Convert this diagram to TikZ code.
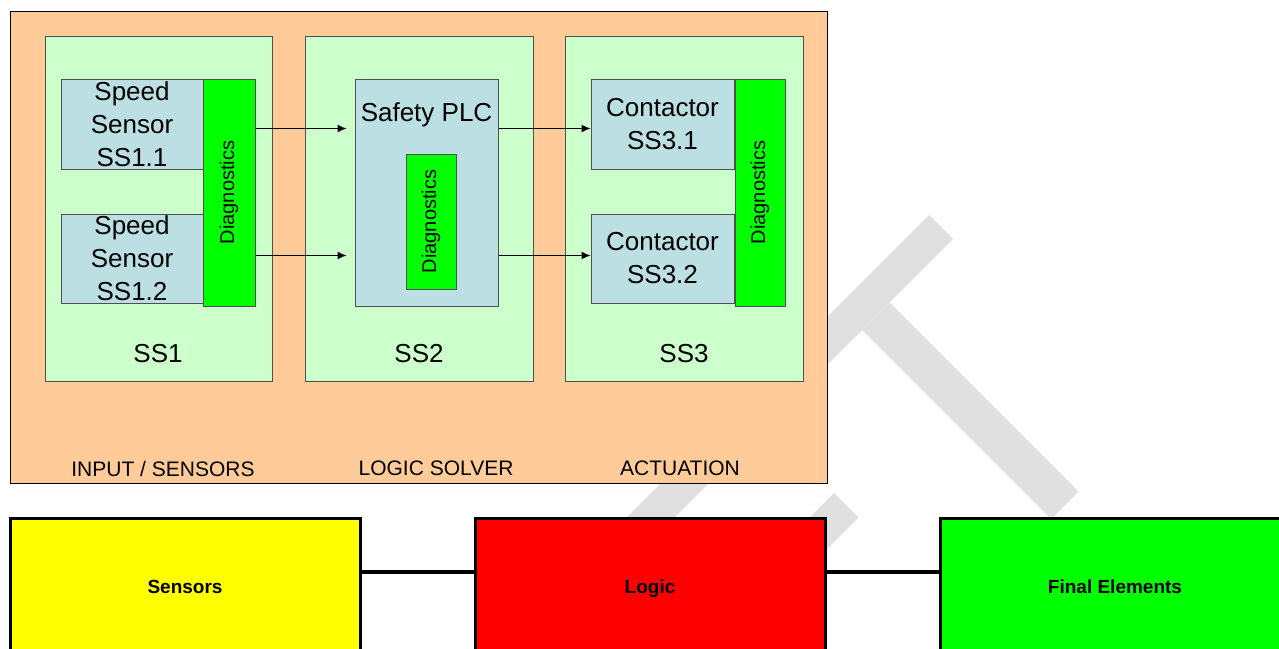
\documentclass[tikz,border=0pt]{standalone}
\usepackage{fontspec}
\setmainfont{Liberation Sans}
\usetikzlibrary{arrows.meta}
\definecolor{peach}{HTML}{FFCC99}
\definecolor{palegreen}{HTML}{CCFFCC}
\definecolor{paleblue}{HTML}{BBDFE3}
\definecolor{diaggreen}{HTML}{00FF00}
\definecolor{wm}{HTML}{E0E0E0}
\definecolor{edgegray}{HTML}{505050}
\definecolor{sensyellow}{HTML}{FFFF00}
\definecolor{logicred}{HTML}{FF0000}
\definecolor{finalgreen}{HTML}{00FF00}
\begin{document}
\begin{tikzpicture}[x=0.5pt,y=-0.5pt,
  outerbox/.style={draw=black, line width=0.5pt, fill=peach, inner sep=0pt},
  ssbox/.style={draw=edgegray, line width=0.5pt, fill=palegreen, inner sep=0pt},
  unitbox/.style={draw=edgegray, line width=0.5pt, fill=paleblue, inner sep=0pt, align=center,
    font=\fontsize{13}{16.5}\selectfont},
  diagbox/.style={draw=edgegray, line width=0.5pt, fill=diaggreen, inner sep=0pt,
    font=\fontsize{10}{12}\selectfont},
  sslbl/.style={inner sep=0pt, font=\fontsize{13}{16}\selectfont},
  catlbl/.style={inner sep=0pt, anchor=base, font=\fontsize{10.5}{12}\selectfont},
  bigbox/.style={draw=black, line width=1.5pt, inner sep=0pt, minimum width=175pt,
    minimum height=68pt, text height=7pt, text depth=0pt,
    font=\fontsize{9.5}{11}\selectfont\bfseries},
  arr/.style={line width=0.5pt, -{Latex[length=4.5pt,width=4pt]}},
  link/.style={line width=2pt}
]
\useasboundingbox (0,0) rectangle (1279,648);
\clip (0,0) rectangle (1279,648);

% watermark
\fill[wm] (929,215) -- (953,239) -- (446,746) -- (422,722) -- cycle;
\fill[wm] (889.5,302.5) -- (1078.5,491.5) -- (1051,519) -- (862,330) -- cycle;
\fill[wm] (834,493) -- (858.5,517.5) -- (638,738) -- (613.5,713.5) -- cycle;

% outer region
\node[outerbox, minimum width=408.5pt, minimum height=236pt] (outer) at (418.5,247) {};

% subsystems
\node[ssbox, minimum width=113.5pt, minimum height=172.5pt] (ss1) at (158.5,208.5) {};
\node[ssbox, minimum width=114pt, minimum height=172.5pt] (ss2) at (419,208.5) {};
\node[ssbox, minimum width=119pt, minimum height=172.5pt] (ss3) at (684,208.5) {};

% SS1 content
\node[unitbox, minimum width=71pt, minimum height=45pt] (sensA) at (132,124) {Speed\\Sensor\\SS1.1};
\node[unitbox, minimum width=71pt, minimum height=44.5pt] (sensB) at (132,258.5) {Speed\\Sensor\\SS1.2};
\node[diagbox, minimum width=26pt, minimum height=113.5pt] (diag1) at (229,192.5) {\rotatebox{90}{Diagnostics}};

% SS2 content
\node[unitbox, minimum width=71.5pt, minimum height=113.5pt,
  label={[inner sep=0pt, anchor=north, label distance=-12pt, font=\fontsize{13}{16}\selectfont]north:Safety PLC}]
  (plc) at (426.5,192.5) {};
\node[diagbox, minimum width=25pt, minimum height=67.5pt] (diag2) at (431,221.5) {\rotatebox{90}{Diagnostics}};

% SS3 content
\node[unitbox, minimum width=71.5pt, minimum height=45pt] (conA) at (662.5,124) {Contactor\\SS3.1};
\node[unitbox, minimum width=71.5pt, minimum height=44.5pt] (conB) at (662.5,258.5) {Contactor\\SS3.2};
\node[diagbox, minimum width=25pt, minimum height=113.5pt] (diag3) at (760,192.5) {\rotatebox{90}{Diagnostics}};

% subsystem labels
\node[sslbl] (ss1t) at (158,354) {SS1};
\node[sslbl] (ss2t) at (419,354) {SS2};
\node[sslbl] (ss3t) at (684,354) {SS3};

% category labels
\node[catlbl] (cat1) at (163,476) {INPUT / SENSORS};
\node[catlbl] (cat2) at (436,475) {LOGIC SOLVER};
\node[catlbl] (cat3) at (680,475) {ACTUATION};

% arrows
\draw[arr] ([yshift=-25pt]diag1.north east) -- ([yshift=-25pt,xshift=-4pt]plc.north west);
\draw[arr] ([yshift=-88.5pt]diag1.north east) -- ([yshift=-88.5pt,xshift=-4pt]plc.north west);
\draw[arr] ([yshift=-25pt]plc.north east) -- ([yshift=-25pt]conA.north west);
\draw[arr] ([yshift=-88.5pt]plc.north east) -- ([yshift=-21pt]conB.north west);

% bottom chain
\node[bigbox, fill=sensyellow] (sensors) at (185,586) {Sensors};
\node[bigbox, fill=logicred] (logic) at (650,586) {Logic};
\node[bigbox, fill=finalgreen] (final) at (1115,586) {Final Elements};
\draw[link] ([yshift=7pt]sensors.east) -- ([yshift=7pt]logic.west);
\draw[link] ([yshift=7pt]logic.east) -- ([yshift=7pt]final.west);
\end{tikzpicture}
\end{document}
